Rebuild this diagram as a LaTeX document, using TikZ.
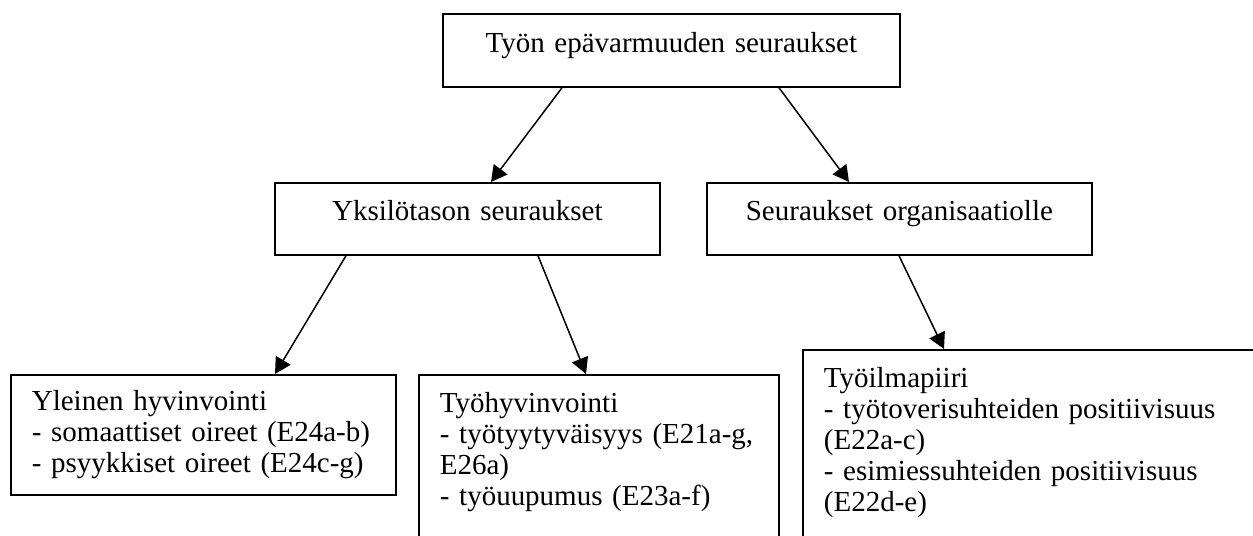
\documentclass[tikz,border=0pt]{standalone}
\usepackage{fontspec}
\setmainfont{Liberation Serif}
\usetikzlibrary{arrows.meta}

\begin{document}
\begin{tikzpicture}[
    tbox/.style={draw, line width=1pt, inner xsep=0pt, inner ysep=0pt,
                 align=center, text width=7.70cm, text height=0.76cm,
                 text depth=0.68cm, anchor=north west,
                 font=\fontsize{16.5}{17.6}\selectfont},
    lbox/.style={draw, line width=1pt, inner xsep=0.42cm, inner ysep=0pt,
                 align=left, anchor=north west,
                 font=\fontsize{16.5}{17.6}\selectfont},
    arr/.style={-{Triangle[length=0.32cm, width=0.34cm]}, line width=0.85pt}]
  \useasboundingbox (0,0) rectangle (25.06,-10.72);
  \clip (0,0) rectangle (25.06,-10.72);

  \node[tbox, text width=9.14cm, text height=0.78cm] (seur) at (8.84,-0.26)
        {Työn epävarmuuden seuraukset};
  \node[tbox] (yksi) at (5.48,-3.64) {Yksilötason seuraukset};
  \node[tbox] (orga) at (14.12,-3.64) {Seuraukset organisaatiolle};

  \node[lbox, text width=6.86cm, text height=0.72cm, text depth=1.68cm]
        (yhv) at (0.20,-7.48)
        {Yleinen hyvinvointi\\- somaattiset oireet (E24a-b)\\- psyykkiset oireet (E24c-g)};
  \node[lbox, text width=6.36cm, text height=0.76cm, text depth=4cm]
        (thv) at (8.36,-7.48)
        {Työhyvinvointi\\- työtyytyväisyys (E21a-g,\\E26a)\\- työuupumus (E23a-f)};
  \node[lbox, text width=10cm, text height=0.76cm, text depth=4cm]
        (ilma) at (16.04,-6.98)
        {Työilmapiiri\\- työtoverisuhteiden positiivisuus\\(E22a-c)\\- esimiessuhteiden positiivisuus\\(E22d-e)};

  \draw[arr] ([xshift=2.40cm]seur.south west) -- ([xshift=4.34cm]yksi.north west);
  \draw[arr] ([xshift=6.74cm]seur.south west) -- ([xshift=2.86cm]orga.north west);
  \draw[arr] ([xshift=1.44cm]yksi.south west) -- ([xshift=5.30cm]yhv.north west);
  \draw[arr] ([xshift=5.28cm]yksi.south west) -- ([xshift=3.36cm]thv.north west);
  \draw[arr] ([xshift=3.86cm]orga.south west) -- ([xshift=2.84cm]ilma.north west);
\end{tikzpicture}
\end{document}
